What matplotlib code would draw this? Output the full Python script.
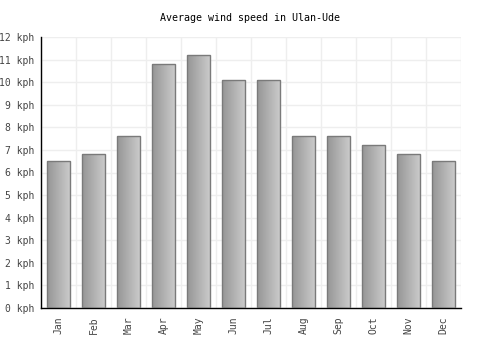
import matplotlib
matplotlib.use("Agg")
import matplotlib.pyplot as plt
import numpy as np
from matplotlib.patches import Rectangle

months = ["Jan", "Feb", "Mar", "Apr", "May", "Jun", "Jul", "Aug", "Sep", "Oct", "Nov", "Dec"]
wind_kph = [6.5, 6.8, 7.6, 10.8, 11.2, 10.1, 10.1, 7.6, 7.6, 7.2, 6.8, 6.5]
yticks = list(range(0, 13))
ytick_labels = [f"{v} kph" for v in yticks]
title = "Average wind speed in Ulan-Ude"

plt.rcParams['font.family'] = ['DejaVu Sans Mono']

fig = plt.figure(figsize=(5, 3.5), dpi=100)
ax = fig.add_axes([41/500, 42/350, 420/500, 271/350])

x = np.arange(len(months))
width = 0.66

grad = np.linspace(0, 1, 256).reshape(1, -1)
cmap = matplotlib.colors.LinearSegmentedColormap.from_list("g", ["#959595", "#cdcdcd"])
for xi, v in zip(x, wind_kph):
    x0 = xi - width / 2
    im = ax.imshow(grad, extent=[x0, x0 + width, 0, v], aspect='auto', cmap=cmap, zorder=2, interpolation='bilinear')
    rect = Rectangle((x0, 0), width, v, facecolor='none', edgecolor='#7a7a7a', linewidth=1.0, zorder=3)
    ax.add_patch(rect)
    im.set_clip_path(rect)
ax.set_xlim(-0.5, len(months) - 0.5)
ax.set_ylim(0, 12)

ax.set_yticks(yticks)
ax.set_yticklabels(ytick_labels)
ax.set_xticks(x)
ax.set_xticklabels(months, rotation=90)
ax.set_xticks(np.arange(-0.5, len(months)), minor=True)

ax.grid(axis='y', which='major', color='#eeeeee', linewidth=1, zorder=0)
ax.grid(axis='x', which='minor', color='#eeeeee', linewidth=1, zorder=0)
ax.set_axisbelow(True)

for s in ['top', 'right']:
    ax.spines[s].set_visible(False)
for s in ['left', 'bottom']:
    ax.spines[s].set_color('black')
    ax.spines[s].set_linewidth(1)

ax.tick_params(axis='both', which='both', length=0, labelsize=7, labelcolor='#444444')
ax.tick_params(axis='y', pad=5)
ax.tick_params(axis='x', pad=6)

fig.text(0.5, 1 - 18/350, title, ha='center', va='center', fontsize=7.2, color='black')

fig.savefig("out.png", dpi=100, facecolor='white')
